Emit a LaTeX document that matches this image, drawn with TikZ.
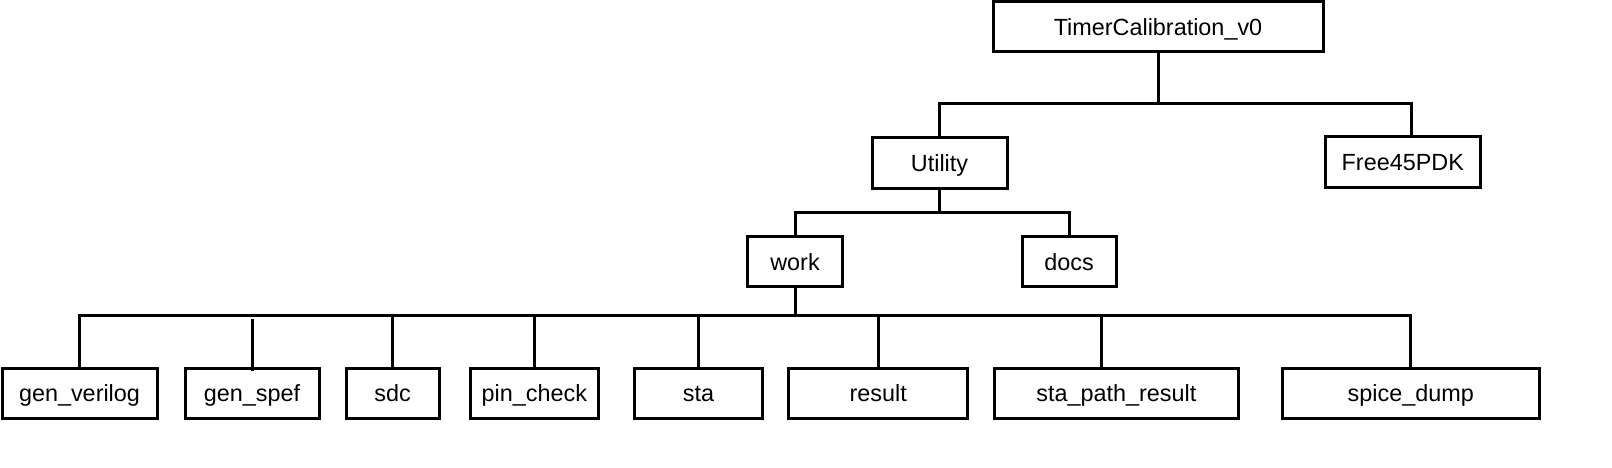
\documentclass[tikz,border=0pt]{standalone}
\usepackage{fontspec}
\setmainfont{Liberation Sans}
\usepackage{tikz}

\begin{document}
\begin{tikzpicture}[x=1pt,y=-1pt,line width=3pt]
\tikzstyle{every node}+=[inner sep=0pt]
\tikzstyle{dirbox}=[draw,line width=3pt,minimum height=50pt,text height=17pt,text depth=0pt,font=\fontsize{23.4}{28}\selectfont]
\useasboundingbox (0,0) rectangle (1612,467);
% top level
\node [dirbox,minimum width=330pt] (root) at (1158,26.5) {TimerCalibration\_v0};
\node [dirbox,minimum width=135pt,minimum height=51pt] (utility) at (939.5,163.4) {Utility};
\node [dirbox,minimum width=154.5pt,minimum height=51pt] (pdk) at (1402.8,162) {Free45PDK};
% second level
\node [dirbox,minimum width=94.5pt] (work) at (795,261.7) {work};
\node [dirbox,minimum width=94pt] (docs) at (1069,261.7) {docs};
% work folders
\node [dirbox,minimum width=155pt] (verilog) at (79.5,393.2) {gen\_verilog};
\node [dirbox,minimum width=134pt] (spef) at (252,393.2) {gen\_spef};
\node [dirbox,minimum width=93pt] (sdc) at (392.7,393.2) {sdc};
\node [dirbox,minimum width=128pt] (pincheck) at (534.3,393.2) {pin\_check};
\node [dirbox,minimum width=128.4pt] (sta) at (698.5,393.2) {sta};
\node [dirbox,minimum width=179pt] (result) at (878.2,393.2) {result};
\node [dirbox,minimum width=244pt] (stapath) at (1116.3,393.2) {sta\_path\_result};
\node [dirbox,minimum width=257pt] (spice) at (1410.8,393.2) {spice\_dump};
% bus lines
\coordinate (bus0) at (1159,103.3);
\coordinate (bus1) at (939.5,212.3);
\coordinate (bus2) at (794.3,315.7);
\draw (root.south) -- (root.south |- bus0);
\draw (pdk.north -| 1411.3,0) |- (utility.north |- bus0) -- (utility.north);
\draw (utility.south) -- (bus1);
\draw (work.north) |- (bus1) -| (docs.north);
\draw (work.south) -- (work.south |- bus2);
\draw (verilog.north) |- (spice.north |- bus2) -- (spice.north);
\foreach \n in {sdc,pincheck,sta,result}
  \draw (\n.north) -- (\n.north |- bus2);
\draw (stapath.north -| 1101.7,0) -- (bus2 -| 1101.7,0);
\draw (spef.north |- 0,319) -- (spef.north |- 0,371);
\end{tikzpicture}
\end{document}
